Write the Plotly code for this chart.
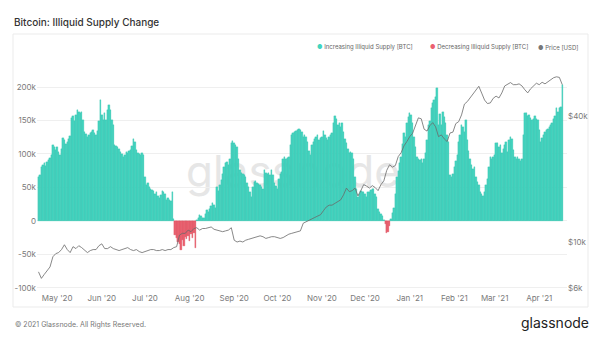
import pandas as pd
import plotly.graph_objects as go

# ---------------- data ----------------
START_DATE = "2020-04-18"          # first daily bar
# Daily illiquid supply change, thousands of BTC
ILLIQUID_CHANGE_K = [
    66, 68, 80, 84, 86, 82, 88, 91, 94, 98, 113, 111, 106, 110, 103, 98, 108, 124, 121, 115,
    118, 123, 127, 154, 156, 149, 158, 166, 163, 161, 163, 151, 133, 130, 126, 128, 131, 133, 136, 131,
    128, 135, 150, 181, 158, 151, 161, 151, 165, 173, 166, 151, 143, 113, 112, 110, 107, 103, 100, 96,
    99, 103, 101, 104, 106, 112, 123, 118, 106, 102, 100, 98, 101, 98, 66, 54, 57, 50, 48, 46,
    45, 41, 43, 38, 34, 39, 45, 43, 41, 32, 35, 32, 30, 43, 3,
    -21, -25, -31, -34, -43, -28, -38, -24, -27, -22, -30, -20, -25, -18, -40,
    2, 5, 9, 7, 4, 5, 11, 16, 14, 18, 22, 27, 24, 20, 51, 45, 54, 61, 70, 80,
    86, 88, 83, 93, 116, 119, 117, 113, 110, 93, 76, 72, 70, 68, 66, 56, 51, 43, 36, 51,
    58, 60, 56, 55, 53, 50, 48, 76, 71, 70, 72, 68, 76, 68, 56, 52, 48, 63, 70, 73,
    93, 96, 93, 94, 96, 113, 128, 131, 133, 135, 136, 138, 136, 133, 126, 128, 125, 118, 105, 98,
    113, 118, 123, 125, 128, 121, 124, 126, 135, 128, 124, 121, 126, 128, 131, 146, 156, 153, 143, 146,
    141, 146, 133, 123, 116, 108, 101, 103, 101, 93, 66, 48, 36, 41, 44, 43, 43, 41, 36, 43,
    43, 46, 48, 48, 41, 36, 18, 13, 10, 8, 1,
    -5, -18, -16, -8,
    3, 12, 20, 41, 66, 75, 86, 96, 115, 131, 125, 146, 155, 161, 158, 146, 126, 111, 96, 93,
    91, 93, 86, 92, 101, 121, 143, 150, 168, 176, 180, 185, 198, 143, 160, 143, 163, 155, 146, 128,
    118, 68, 66, 70, 81, 90, 98, 118, 128, 143, 141, 133, 151, 121, 105, 93, 83, 78, 80, 66,
    58, 53, 43, 40, 38, 43, 53, 63, 80, 96, 93, 96, 98, 116, 116, 110, 113, 101, 108, 113,
    118, 103, 121, 125, 123, 106, 96, 93, 96, 93, 90, 93, 128, 161, 161, 156, 158, 154, 151, 153,
    156, 153, 151, 136, 118, 124, 128, 133, 136, 138, 141, 143, 146, 153, 156, 168, 163, 168, 170, 203,
]

PRICE_START = "2020-04-18"
PRICE_STEP_DAYS = 2
# Bitcoin price every second day, thousands of USD
PRICE_USD_K = [
    7.2, 6.7, 7.0, 7.3, 7.6, 8.5, 8.8, 8.9, 9.2, 9.7, 9.2, 8.9, 9.5, 9.3, 9.6, 9.4, 9.1, 8.9, 9.1, 9.2,
    9.2, 9.6, 9.8, 9.3, 9.3, 9.5, 9.3, 9.2, 9.1, 9.2, 9.3, 9.4, 9.2, 9.1, 9.2, 9.0, 8.9, 9.0, 9.1, 9.2,
    9.2, 9.1, 9.1, 9.2, 9.1, 9.2, 9.2, 9.4, 9.5, 10.8, 11.0, 11.0, 11.4, 11.2, 11.6, 11.7, 11.4, 11.6, 11.6, 11.7,
    11.8, 11.5, 11.4, 11.3, 11.2, 11.3, 11.4, 11.7, 10.2, 10.0, 10.1, 10.0, 10.2, 10.3, 10.4, 10.5, 10.6, 10.7, 10.6, 10.4,
    10.5, 10.6, 10.6, 10.5, 10.4, 10.5, 10.7, 10.9, 11.0, 11.1, 11.2, 11.3, 12.3, 12.5, 12.7, 13.0, 13.1, 13.3, 13.5, 14.1,
    14.7, 15.0, 15.0, 15.3, 15.6, 15.9, 16.8, 18.1, 17.4, 17.6, 18.1, 16.6, 17.6, 18.8, 18.5, 18.1, 18.6, 18.2, 17.6, 18.8,
    19.6, 22.0, 23.4, 22.8, 23.2, 25.6, 26.7, 28.8, 30.2, 31.9, 33.1, 36.4, 39.2, 38.8, 34.6, 33.9, 36.0, 37.2, 35.5, 31.9,
    32.5, 31.1, 30.2, 33.2, 33.5, 36.8, 37.6, 40.5, 45.6, 46.9, 48.8, 50.9, 53.4, 55.5, 51.5, 47.7, 45.9, 46.2, 48.6, 49.8,
    48.8, 51.6, 55.7, 56.5, 57.8, 56.5, 56.5, 57.0, 55.7, 53.4, 51.6, 54.0, 56.0, 57.4, 56.5, 58.0, 57.0, 58.5, 60.0, 61.0,
    61.6, 61.2, 56.5,
]

SERIES_NAMES = ["Increasing Illiquid Supply [BTC]", "Decreasing Illiquid Supply [BTC]", "Price [USD]"]
LEFT_TICKS = [-100000, -50000, 0, 50000, 100000, 150000, 200000]
LEFT_TICK_TEXT = ["-100k", "-50k", "0", "50k", "100k", "150k", "200k"]
RIGHT_TICKS = [6000, 10000, 40000]
RIGHT_TICK_TEXT = ["$6k", "$10k", "$40k"]
WATERMARK = "glassnode"

# ---------------- styling ----------------
TEAL = "#42d5c0"
TEAL_EDGE = "#2cbba7"
RED = "#ec6170"
RED_EDGE = "#d63f51"
PRICE_COLOR = "#6a6a6a"
FONT = "Inter"

W, H = 600, 338
ML, MR, MT, MB = 37, 33, 65, 46
PW, PH = W - ML - MR, H - MT - MB


def fx(px):
    return (px - ML) / PW


def fy(py):
    return (H - MB - py) / PH


dates = pd.date_range(START_DATE, periods=len(ILLIQUID_CHANGE_K), freq="D")
price_dates = pd.date_range(PRICE_START, periods=len(PRICE_USD_K), freq=f"{PRICE_STEP_DAYS}D")

inc = [v * 1000 if v >= 0 else None for v in ILLIQUID_CHANGE_K]
dec = [v * 1000 if v < 0 else None for v in ILLIQUID_CHANGE_K]
price = [p * 1000 for p in PRICE_USD_K]

fig = go.Figure()
# watermark lives on the first (bottom-most) subplot so the data is drawn over it
fig.add_trace(go.Scatter(x=[0.5], y=[0.5], mode="text", text=[WATERMARK], xaxis="x", yaxis="y",
                         textfont=dict(family=FONT, size=44, color="#e6e6e6"), hoverinfo="skip",
                         showlegend=False))
fig.add_trace(go.Bar(x=dates, y=inc, name=SERIES_NAMES[0], xaxis="x2", yaxis="y2",
                     marker=dict(color=TEAL, line=dict(width=0.3, color=TEAL_EDGE)), showlegend=False))
fig.add_trace(go.Bar(x=dates, y=dec, name=SERIES_NAMES[1], xaxis="x2", yaxis="y2",
                     marker=dict(color=RED, line=dict(width=0.3, color=RED_EDGE)), showlegend=False))
fig.add_trace(go.Scatter(x=price_dates, y=price, name=SERIES_NAMES[2], xaxis="x2", yaxis="y3", mode="lines",
                         line=dict(color=PRICE_COLOR, width=0.8), showlegend=False))

tickfont = dict(family=FONT, size=8, color="#7a7a7a")
hidden = dict(visible=False, showgrid=False, zeroline=False, fixedrange=True)

wm_cx = (293 - ML) / PW
wm_cy = (H - MB - 176) / PH

fig.update_layout(
    width=W, height=H,
    margin=dict(l=ML, r=MR, t=MT, b=MB, pad=0),
    paper_bgcolor="white", plot_bgcolor="rgba(0,0,0,0)",
    barmode="overlay", bargap=0,
    font=dict(family=FONT),
    xaxis=dict(hidden, domain=[0, 1], anchor="y", range=[0.5 - wm_cx, 1.5 - wm_cx]),
    yaxis=dict(hidden, domain=[0, 1], anchor="x", range=[0.5 - wm_cy, 1.5 - wm_cy]),
    xaxis2=dict(type="date", domain=[0, 1], anchor="y2", range=["2020-04-16 23:00", "2021-04-20 07:00"],
                tick0="2020-05-01", dtick="M1", tickformat="%b '%y",
                showgrid=False, zeroline=False, showline=False, ticks="", tickfont=tickfont),
    yaxis2=dict(domain=[0, 1], anchor="x2", range=[-106100, 232900], tickvals=LEFT_TICKS,
                ticktext=LEFT_TICK_TEXT, showgrid=True, gridcolor="#efefef", gridwidth=1,
                zeroline=False, showline=False, ticks="", tickfont=tickfont),
    yaxis3=dict(type="log", overlaying="y2", anchor="x2", side="right", range=[3.761, 4.846],
                tickvals=RIGHT_TICKS, ticktext=RIGHT_TICK_TEXT, showgrid=False, zeroline=False,
                showline=False, ticks="", tickfont=tickfont),
    showlegend=False,
)

# outer card border
fig.add_shape(type="rect", xref="paper", yref="paper", x0=fx(13), x1=fx(588), y0=fy(307), y1=fy(34),
              line=dict(color="#ebebeb", width=1), fillcolor="rgba(0,0,0,0)", layer="below")

# title
fig.add_annotation(text="Bitcoin: Illiquid Supply Change", xref="paper", yref="paper",
                   x=fx(12), y=fy(22), xanchor="left", yanchor="middle", showarrow=False,
                   font=dict(family=FONT, size=10, color="#333333", weight=500))

# legend
legend_items = [(SERIES_NAMES[0], TEAL, 315), (SERIES_NAMES[1], RED, 428), (SERIES_NAMES[2], "#777777", 536)]
for name, col, xpos in legend_items:
    fig.add_annotation(text=f"<span style='color:{col}'>●</span> {name}", xref="paper", yref="paper",
                       x=fx(xpos), y=fy(47), xanchor="left", yanchor="middle", showarrow=False,
                       font=dict(family=FONT, size=6, color="#666666"))

# footer
fig.add_annotation(text="© 2021 Glassnode. All Rights Reserved.", xref="paper", yref="paper",
                   x=fx(13), y=fy(324), xanchor="left", yanchor="middle", showarrow=False,
                   font=dict(family=FONT, size=7, color="#777777"))
fig.add_annotation(text="glassnode", xref="paper", yref="paper",
                   x=fx(591), y=fy(322), xanchor="right", yanchor="middle", showarrow=False,
                   font=dict(family=FONT, size=14, color="#222222"))

fig.write_html("out.html")
